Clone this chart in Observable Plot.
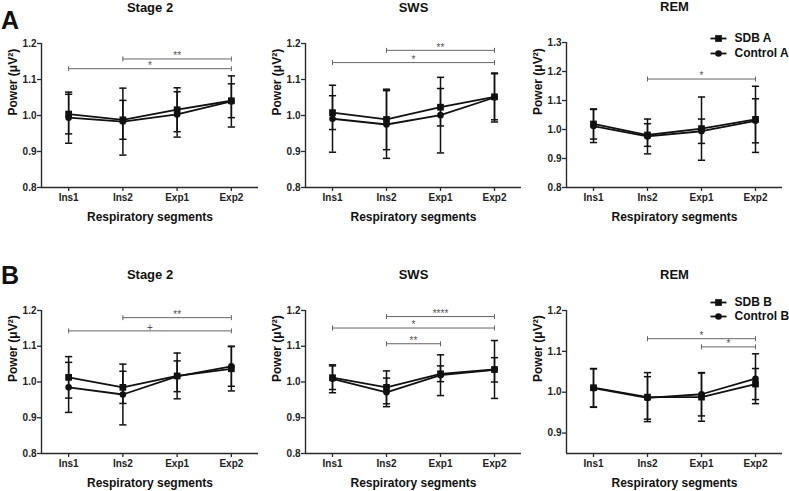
<!DOCTYPE html>
<html>
<head>
<meta charset="utf-8">
<script src="https://cdn.jsdelivr.net/npm/d3@7"></script>
<script src="https://cdn.jsdelivr.net/npm/@observablehq/plot@0.6"></script>
<style>
  html, body { margin: 0; padding: 0; background: #fff; }
  #root { position: relative; width: 789px; height: 491px; overflow: hidden; font-family: "Liberation Sans", Arial, sans-serif; }
  .letter { position: absolute; font-size: 25px; font-weight: bold; line-height: 25px; color: #111; }
  #root svg { position: absolute; overflow: visible; }
</style>
</head>
<body>
<div id="root"></div>
<script>
// ---------- data ----------
const segments = ["Ins1", "Ins2", "Exp1", "Exp2"];
const stageTitles = ["Stage 2", "SWS", "REM"];
const groupLetters = ["A", "B"];
const legendA = ["SDB A", "Control A"];
const legendB = ["SDB B", "Control B"];

// Group A
const sdbA_stage2 = [1.004, 0.988, 1.016, 1.041];
const sdbA_stage2_sd = [0.055, 0.054, 0.061, 0.047];
const ctlA_stage2 = [0.994, 0.983, 1.003, 1.039];
const ctlA_stage2_sd = [0.071, 0.093, 0.063, 0.071];

const sdbA_sws = [1.008, 0.989, 1.023, 1.052];
const sdbA_sws_sd = [0.047, 0.084, 0.052, 0.064];
const ctlA_sws = [0.991, 0.975, 1.001, 1.050];
const ctlA_sws_sd = [0.093, 0.094, 0.105, 0.068];

const sdbA_rem = [1.019, 0.981, 1.003, 1.035];
const sdbA_rem_sd = [0.052, 0.039, 0.109, 0.114];
const ctlA_rem = [1.012, 0.976, 0.994, 1.030];
const ctlA_rem_sd = [0.057, 0.060, 0.042, 0.076];

// Group B
const sdbB_stage2 = [1.013, 0.985, 1.017, 1.037];
const sdbB_stage2_sd = [0.058, 0.045, 0.064, 0.062];
const ctlB_stage2 = [0.985, 0.965, 1.016, 1.044];
const ctlB_stage2_sd = [0.070, 0.085, 0.043, 0.056];

const sdbB_sws = [1.012, 0.985, 1.023, 1.035];
const sdbB_sws_sd = [0.033, 0.046, 0.022, 0.081];
const ctlB_sws = [1.009, 0.971, 1.019, 1.034];
const ctlB_sws_sd = [0.039, 0.040, 0.057, 0.034];

const sdbB_rem = [1.011, 0.988, 0.988, 1.020];
const sdbB_rem_sd = [0.047, 0.060, 0.059, 0.038];
const ctlB_rem = [1.010, 0.986, 0.995, 1.033];
const ctlB_rem_sd = [0.047, 0.052, 0.053, 0.061];

// significance brackets: [from, to, y, label]
const bracketsA_stage2 = [["Ins2", "Exp2", 1.157, "**"], ["Ins1", "Exp2", 1.130, "*"]];
const bracketsA_sws = [["Ins2", "Exp2", 1.181, "**"], ["Ins1", "Exp2", 1.147, "*"]];
const bracketsA_rem = [["Ins2", "Exp2", 1.174, "*"]];
const bracketsB_stage2 = [["Ins2", "Exp2", 1.180, "**"], ["Ins1", "Exp2", 1.143, "+"]];
const bracketsB_sws = [["Ins2", "Exp2", 1.183, "****"], ["Ins1", "Exp2", 1.151, "*"], ["Ins2", "Exp1", 1.107, "**"]];
const bracketsB_rem = [["Ins2", "Exp2", 1.131, "*"], ["Exp1", "Exp2", 1.111, "*"]];

// y axes
const yDomainStd = [0.8, 1.2];
const yTicksStd = [0.8, 0.9, 1.0, 1.1, 1.2];
const yDomainRemA = [0.8, 1.3];
const yTicksRemA = [0.8, 0.9, 1.0, 1.1, 1.2, 1.3];
const yDomainRemB = [0.85, 1.2];
const yTicksRemB = [0.9, 1.0, 1.1, 1.2];

// ---------- drawing ----------
const FONT = '"Liberation Sans", Arial, Helvetica, sans-serif';
const hline = { draw(ctx, size) { const r = Math.sqrt(size / Math.PI); ctx.moveTo(-r, 0); ctx.lineTo(r, 0); } };
const vline = { draw(ctx, size) { const r = Math.sqrt(size / Math.PI); ctx.moveTo(0, -r); ctx.lineTo(0, r); } };
const idx = (s) => segments.indexOf(s);

function panel(cfg) {
  const rows = [];
  cfg.sdb.forEach((v, i) => rows.push({ series: "SDB", i, v, sd: cfg.sdbSd[i] }));
  cfg.ctl.forEach((v, i) => rows.push({ series: "Control", i, v, sd: cfg.ctlSd[i] }));
  const sdbRows = rows.filter((d) => d.series === "SDB");
  const ctlRows = rows.filter((d) => d.series === "Control");
  const br = cfg.brackets.map(([a, b, y, label]) => ({ x1: idx(a), x2: idx(b), y, label }));
  const brEnds = br.flatMap((d) => [{ x: d.x1, y: d.y }, { x: d.x2, y: d.y }]);
  const AX = "#2a2a2a";
  const marks = [
    Plot.ruleX([-0.5], { y1: cfg.yDomain[0], y2: cfg.yDomain[1], stroke: AX, strokeWidth: 1.4 }),
    Plot.ruleY([cfg.yDomain[0]], { stroke: AX, strokeWidth: 1.4 }),
    Plot.axisY({ ticks: cfg.yTicks, tickFormat: d3.format(".1f"), tickSize: 4, tickPadding: 1, label: null, stroke: AX, strokeWidth: 1.3, fontSize: 10, fontWeight: "bold" }),
    Plot.axisX({ ticks: [0, 1, 2, 3], tickFormat: (i) => segments[i], tickSize: 4, tickPadding: 2, label: null, stroke: AX, strokeWidth: 1.3, fontSize: 10, fontWeight: "bold" }),
    // brackets
    Plot.ruleY(br, { y: "y", x1: "x1", x2: "x2", stroke: "#666", strokeWidth: 1 }),
    Plot.dot(brEnds, { x: "x", y: "y", symbol: vline, r: 2.5, stroke: "#666", fill: "none", strokeWidth: 1 }),
    Plot.text(br, { x: (d) => (d.x1 + d.x2) / 2, y: "y", text: "label", dy: -3, fill: "#555", fontSize: 10, fontWeight: "normal" }),
    // error bars
    Plot.ruleX(rows, { x: "i", y1: (d) => d.v - d.sd, y2: (d) => d.v + d.sd, stroke: "#111", strokeWidth: 1.5 }),
    Plot.dot(rows, { x: "i", y: (d) => d.v + d.sd, symbol: hline, r: 3.6, stroke: "#111", fill: "none", strokeWidth: 1.5 }),
    Plot.dot(rows, { x: "i", y: (d) => d.v - d.sd, symbol: hline, r: 3.6, stroke: "#111", fill: "none", strokeWidth: 1.5 }),
    // lines + markers
    Plot.line(rows, { x: "i", y: "v", z: "series", stroke: "#111", strokeWidth: 1.8 }),
    Plot.dot(sdbRows, { x: "i", y: "v", symbol: "square", r: 3.8, fill: "#111", stroke: "none" }),
    Plot.dot(ctlRows, { x: "i", y: "v", symbol: "circle", r: 3.3, fill: "#111", stroke: "none" }),
    // title and axis labels
    Plot.text([cfg.title], { frameAnchor: "top", dy: -36, fontSize: 13, fontWeight: "bold", fill: "#111", lineAnchor: "middle" }),
    Plot.text(["Respiratory segments"], { frameAnchor: "bottom", dy: 30, fontSize: 12, fontWeight: "bold", fill: "#111", lineAnchor: "middle" }),
    Plot.text(["Power (μV²)"], { frameAnchor: "left", dx: -28.5, rotate: -90, fontSize: 12, fontWeight: "bold", fill: "#111", lineAnchor: "middle" })
  ];
  if (cfg.legend) {
    const [l1, l2] = cfg.legend;
    const dys = cfg.legendDy;
    marks.push(
      Plot.dot([0], { frameAnchor: "top-left", dx: 152, dy: dys[0], symbol: hline, r: 8, stroke: "#111", fill: "none", strokeWidth: 1.8 }),
      Plot.dot([0], { frameAnchor: "top-left", dx: 152, dy: dys[0], symbol: "square", r: 3.8, fill: "#111", stroke: "none" }),
      Plot.text([l1], { frameAnchor: "top-left", dx: 168, dy: dys[0], textAnchor: "start", lineAnchor: "middle", fontSize: 12, fontWeight: "bold", fill: "#111" }),
      Plot.dot([0], { frameAnchor: "top-left", dx: 152, dy: dys[1], symbol: hline, r: 8, stroke: "#111", fill: "none", strokeWidth: 1.8 }),
      Plot.dot([0], { frameAnchor: "top-left", dx: 152, dy: dys[1], symbol: "circle", r: 3.3, fill: "#111", stroke: "none" }),
      Plot.text([l2], { frameAnchor: "top-left", dx: 168, dy: dys[1], textAnchor: "start", lineAnchor: "middle", fontSize: 12, fontWeight: "bold", fill: "#111" })
    );
  }
  const svg = Plot.plot({
    width: cfg.width,
    height: cfg.height,
    marginLeft: 41,
    marginRight: cfg.width - 41 - cfg.plotW,
    marginTop: cfg.marginTop,
    marginBottom: cfg.marginBottom,
    x: { type: "linear", domain: [-0.5, 3.5], axis: null },
    y: { domain: cfg.yDomain, axis: null },
    style: { fontFamily: FONT, fontSize: "10px", fontWeight: "bold", color: "#222", background: "transparent", overflow: "visible" },
    marks
  });
  svg.style.left = cfg.left + "px";
  svg.style.top = cfg.top + "px";
  return svg;
}

const root = document.getElementById("root");
const cols = [
  { left: 0, width: 264, plotW: 217 },
  { left: 264, width: 261, plotW: 216 },
  { left: 525, width: 264, plotW: 216 }
];
const rowA = { top: 0, height: 245, marginBottom: 58 };
const rowB = { top: 245, height: 246, marginBottom: 38 };

const configs = [
  { ...cols[0], ...rowA, marginTop: 43, title: stageTitles[0], sdb: sdbA_stage2, sdbSd: sdbA_stage2_sd, ctl: ctlA_stage2, ctlSd: ctlA_stage2_sd, yDomain: yDomainStd, yTicks: yTicksStd, brackets: bracketsA_stage2 },
  { ...cols[1], ...rowA, marginTop: 43, title: stageTitles[1], sdb: sdbA_sws, sdbSd: sdbA_sws_sd, ctl: ctlA_sws, ctlSd: ctlA_sws_sd, yDomain: yDomainStd, yTicks: yTicksStd, brackets: bracketsA_sws },
  { ...cols[2], ...rowA, marginTop: 42, title: stageTitles[2], sdb: sdbA_rem, sdbSd: sdbA_rem_sd, ctl: ctlA_rem, ctlSd: ctlA_rem_sd, yDomain: yDomainRemA, yTicks: yTicksRemA, brackets: bracketsA_rem, legend: legendA, legendDy: [-4, 11] },
  { ...cols[0], ...rowB, marginTop: 65, title: stageTitles[0], sdb: sdbB_stage2, sdbSd: sdbB_stage2_sd, ctl: ctlB_stage2, ctlSd: ctlB_stage2_sd, yDomain: yDomainStd, yTicks: yTicksStd, brackets: bracketsB_stage2 },
  { ...cols[1], ...rowB, marginTop: 65, title: stageTitles[1], sdb: sdbB_sws, sdbSd: sdbB_sws_sd, ctl: ctlB_sws, ctlSd: ctlB_sws_sd, yDomain: yDomainStd, yTicks: yTicksStd, brackets: bracketsB_sws },
  { ...cols[2], ...rowB, marginTop: 65, title: stageTitles[2], sdb: sdbB_rem, sdbSd: sdbB_rem_sd, ctl: ctlB_rem, ctlSd: ctlB_rem_sd, yDomain: yDomainRemB, yTicks: yTicksRemB, brackets: bracketsB_rem, legend: legendB, legendDy: [-8, 6] }
];
configs.forEach((c) => root.appendChild(panel(c)));

const letterTops = [8, 263];
groupLetters.forEach((L, k) => {
  const div = document.createElement("div");
  div.className = "letter";
  div.textContent = L;
  div.style.left = "1px";
  div.style.top = letterTops[k] + "px";
  root.appendChild(div);
});
</script>
</body>
</html>
